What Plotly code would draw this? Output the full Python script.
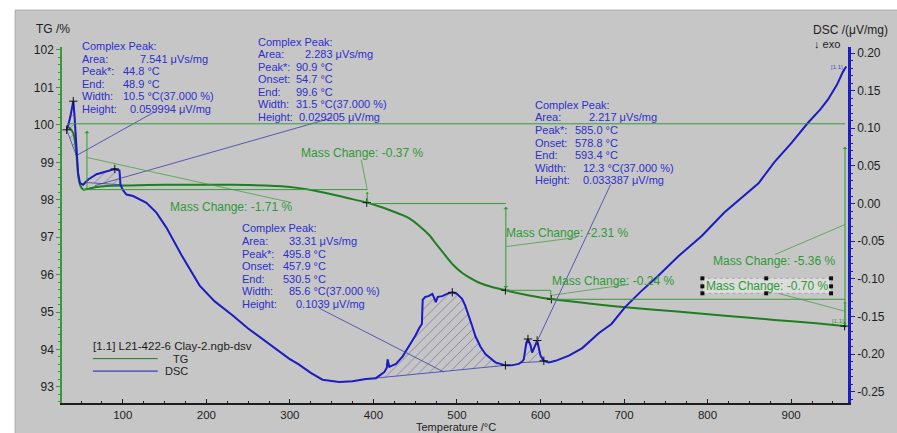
import numpy as np
import plotly.graph_objects as go

# ---------------- data ----------------
tg_T = [32.8, 36, 40.7, 43, 44.7, 46.7, 49.5, 52.6, 58.6, 68.6, 80, 108, 150, 200, 232, 270,
        290, 311, 330, 351, 370, 391, 410, 427, 435, 443, 455, 467, 475, 486.5, 495, 506,
        515, 526, 540, 558, 585, 614, 666, 705, 760, 821, 880, 930, 966]
tg_val = [99.95, 99.92, 99.78, 99.5, 99.16, 98.63, 98.36, 98.27, 98.29, 98.34, 98.37, 98.38,
          98.40, 98.40, 98.40, 98.38, 98.36, 98.31, 98.24, 98.14, 98.04, 97.93, 97.80, 97.66,
          97.59, 97.50, 97.30, 97.05, 96.82, 96.50, 96.27, 96.05, 95.92, 95.79, 95.68, 95.58,
          95.45, 95.34, 95.21, 95.12, 95.02, 94.90, 94.79, 94.70, 94.62]

dsc_T = [32.8, 35, 38, 40.7, 42, 44.7, 46.5, 48.7, 52.6, 55, 58.6, 68.6, 80.5, 90.4, 96,
         97.2, 100, 104.4, 112.3, 120, 128.3, 140.2, 152.2, 170, 192, 210, 232, 250, 272,
         290, 299, 311, 325, 339, 359, 375, 391, 403, 413, 416, 417, 419, 427, 435, 443,
         450, 455, 458, 459, 462, 466, 470.5, 473, 474.6, 477, 482.5, 488, 494.4, 500,
         506.3, 510, 514.3, 518, 522, 528, 534, 540, 546, 558, 565, 574, 578, 580, 583,
         585, 588, 590, 593, 596, 598, 600, 604, 610, 618, 625, 634, 650, 670, 685, 701,
         720, 741, 765, 793, 820, 861, 880, 900, 920, 935, 944, 955, 962, 966]
dsc_val = [0.098, 0.105, 0.120, 0.136, 0.120, 0.063, 0.040, 0.027, 0.025, 0.028, 0.032,
           0.039, 0.043, 0.046, 0.044, 0.025, 0.018, 0.012, 0.010, 0.006, 0.001, -0.012,
           -0.032, -0.068, -0.109, -0.130, -0.149, -0.166, -0.184, -0.198, -0.206, -0.214,
           -0.225, -0.234, -0.237, -0.236, -0.233, -0.232, -0.224, -0.218, -0.207, -0.217,
           -0.213, -0.203, -0.189, -0.176, -0.165, -0.160, -0.128, -0.124, -0.123, -0.120,
           -0.126, -0.131, -0.124, -0.123, -0.120, -0.118, -0.120, -0.127, -0.136, -0.149,
           -0.162, -0.176, -0.190, -0.200, -0.206, -0.211, -0.215, -0.215, -0.213, -0.210,
           -0.207, -0.185, -0.180, -0.188, -0.198, -0.190, -0.182, -0.192, -0.202, -0.209,
           -0.211, -0.209, -0.206, -0.202, -0.192, -0.172, -0.160, -0.138, -0.117, -0.096,
           -0.070, -0.043, -0.012, 0.027, 0.055, 0.080, 0.107, 0.125, 0.138, 0.158, 0.175,
           0.182]

x_ticks = [100, 200, 300, 400, 500, 600, 700, 800, 900]
tg_ticks = [93, 94, 95, 96, 97, 98, 99, 100, 101, 102]
dsc_ticks = [-0.25, -0.20, -0.15, -0.10, -0.05, 0.00, 0.05, 0.10, 0.15, 0.20]
dsc_tick_text = ["-0.25", "-0.20", "-0.15", "-0.10", "-0.05", "0.00", "0.05", "0.10", "0.15", "0.20"]

# hatched peak integration ranges (°C)
peak_ranges = [(32.8, 44.7), (55.0, 97.2), (399.0, 558.0), (576.0, 606.0)]

# peak result texts
peak_labels = [
    ["Complex Peak:", "Area:", "Peak*:", "End:", "Width:", "Height:"],
    ["Complex Peak:", "Area:", "Peak*:", "Onset:", "End:", "Width:", "Height:"],
    ["Complex Peak:", "Area:", "Peak*:", "Onset:", "End:", "Width:", "Height:"],
    ["Complex Peak:", "Area:", "Peak*:", "Onset:", "End:", "Width:", "Height:"],
]
peak_values = [
    ["", "7.541 μVs/mg", "44.8 °C", "48.9 °C", "10.5 °C(37.000 %)", "0.059994 μV/mg"],
    ["", "2.283 μVs/mg", "90.9 °C", "54.7 °C", "99.6 °C", "31.5 °C(37.000 %)", "0.029205 μV/mg"],
    ["", "2.217 μVs/mg", "585.0 °C", "578.8 °C", "593.4 °C", "12.3 °C(37.000 %)", "0.033387 μV/mg"],
    ["", "33.31 μVs/mg", "495.8 °C", "457.9 °C", "530.5 °C", "85.6 °C(37.000 %)", "0.1039 μV/mg"],
]
mass_changes = ["Mass Change: -1.71 %", "Mass Change: -0.37 %", "Mass Change: -2.31 %",
                "Mass Change: -0.24 %", "Mass Change: -5.36 %", "Mass Change: -0.70 %"]

tg_marker_T = [392, 558, 613, 964]
dsc_marker_T = [32.8, 40.7, 90.4, 494.4, 558, 585, 596, 604]

# ---------------- layout helpers ----------------
W, H = 897, 433
L, R, T_, B = 62, 850, 47, 404
def PX(px): return (px - L) / (R - L)
def PY(py): return (B - py) / (B - T_)

FONT = "Liberation Sans, Arial, sans-serif"
BLUE_TXT = "#2f2fcc"
GREEN_TXT = "#2f9a35"
TG_COL = "#1f7d22"
DSC_COL = "#1c1cc0"
GREY = "#c6c6c6"
DARK = "#1e1e1e"

fig = go.Figure()

# hatched peak areas
tT = np.array(dsc_T); tD = np.array(dsc_val)
for (a, b) in peak_ranges:
    m = (tT > a) & (tT < b)
    xs = [a] + list(tT[m]) + [b]
    ys = [float(np.interp(a, tT, tD))] + list(tD[m]) + [float(np.interp(b, tT, tD))]
    fig.add_trace(go.Scatter(x=xs + [a], y=ys + [ys[0]], yaxis="y2", mode="lines",
                             fill="toself", fillcolor="rgba(0,0,0,0)",
                             fillpattern=dict(shape="/", fgcolor="#34348c", bgcolor="rgba(0,0,0,0)",
                                              size=7, solidity=0.12),
                             line=dict(color="#3a3ab0", width=0.8), hoverinfo="skip",
                             showlegend=False))

fig.add_trace(go.Scatter(x=tg_T, y=tg_val, mode="lines", name="TG",
                         line=dict(color=TG_COL, width=2, shape="spline", smoothing=0.6),
                         showlegend=False))
fig.add_trace(go.Scatter(x=dsc_T, y=dsc_val, yaxis="y2", mode="lines", name="DSC",
                         line=dict(color=DSC_COL, width=2), showlegend=False))

# small "+" markers on curves
fig.add_trace(go.Scatter(x=tg_marker_T, y=np.interp(tg_marker_T, tg_T, tg_val), mode="markers",
                         marker=dict(symbol="cross-thin", size=6, line=dict(color="#111", width=1)),
                         showlegend=False, hoverinfo="skip"))
fig.add_trace(go.Scatter(x=dsc_marker_T, y=np.interp(dsc_marker_T, dsc_T, dsc_val), yaxis="y2",
                         mode="markers",
                         marker=dict(symbol="cross-thin", size=6, line=dict(color="#111", width=1)),
                         showlegend=False, hoverinfo="skip"))

ann = []
shapes = []

def text(px, py, s, color=DARK, size=12, anchor="left"):
    ann.append(dict(x=PX(px), y=PY(py), xref="paper", yref="paper", text=s, showarrow=False,
                    xanchor=anchor, yanchor="middle", borderpad=0, borderwidth=0,
                    font=dict(family=FONT, size=size, color=color)))

def line(x0, y0, x1, y1, color, width=0.8):
    shapes.append(dict(type="line", xref="paper", yref="paper", x0=PX(x0), y0=PY(y0),
                       x1=PX(x1), y1=PY(y1), line=dict(color=color, width=width)))

def arrow(hx, hy, tx, ty, color=GREEN_TXT, both=False, size=0.8):
    ann.append(dict(x=PX(hx), y=PY(hy), xref="paper", yref="paper", text="", showarrow=True,
                    ax=tx - hx, ay=ty - hy, arrowhead=1, startarrowhead=1,
                    arrowside="end+start" if both else "end", arrowsize=size,
                    startarrowsize=size, arrowwidth=1, arrowcolor=color))

# peak text blocks: (label x, value x per line, first line y, line step)
BLOCK_SIZE = 11
block_pos = [
    (82, [0, 140, 123, 123, 123, 130], 46, 12.6),
    (258, [0, 306, 297, 297, 297, 297, 300], 41.5, 12.6),
    (536, [0, 590, 576, 576, 576, 584, 584], 105, 12.6),
    (242, [0, 290, 284, 284, 284, 290, 297], 229, 12.6),
]
for labels, values, (lx, vxs, y0, dy) in zip(peak_labels, peak_values, block_pos):
    for i, (lab, val) in enumerate(zip(labels, values)):
        yy = y0 + i * dy
        text(lx, yy, lab, BLUE_TXT, size=BLOCK_SIZE)
        if val:
            text(vxs[i], yy, val, BLUE_TXT, size=BLOCK_SIZE)

# peak leader lines
for (x0, y0, x1, y1) in [(155, 112, 78, 155), (333, 118, 95, 186), (320, 309, 445, 373), (612, 185, 537, 345)]:
    line(x0, y0, x1, y1, "#3c3ca8", 0.8)

# mass change texts
mc_pos = [(170, 207), (302, 153), (507, 234), (553, 282), (715, 262), (708, 287)]

# selection box around the -0.70 label
shapes.append(dict(type="rect", xref="paper", yref="paper", x0=PX(704), x1=PX(833), y0=PY(294), y1=PY(279),
                   fillcolor="#dcdcdc", line=dict(color="#8a8a8a", width=0.6, dash="dot")))
for hx in (704, 768, 833):
    for hy in (279, 294):
        shapes.append(dict(type="rect", xref="paper", yref="paper", x0=PX(hx - 2), x1=PX(hx + 2),
                           y0=PY(hy + 2), y1=PY(hy - 2), fillcolor="#111", line=dict(width=0)))
for hx in (704, 833):
    shapes.append(dict(type="rect", xref="paper", yref="paper", x0=PX(hx - 2), x1=PX(hx + 2),
                       y0=PY(289), y1=PY(285), fillcolor="#111", line=dict(width=0)))

for s, (px, py) in zip(mass_changes, mc_pos):
    text(px, py, s, GREEN_TXT)

# green guide lines
G = "#3a9a3a"
line(67, 124, 847, 124, G, 1)
line(83, 190, 368, 190, G, 1)
line(368, 204, 507, 204, G, 1)
line(507, 291, 552, 291, G, 1)
line(552, 291, 552, 300, G, 1)
line(552, 300, 847, 300, G, 1)
for (x0, y0, x1, y1) in [(88, 158, 292, 203), (362, 160, 368, 190), (508, 247, 578, 238),
                         (553, 296, 630, 285), (780, 294, 847, 312), (777, 255, 847, 225)]:
    line(x0, y0, x1, y1, G, 0.7)
arrow(87, 131, 87, 190)
arrow(368, 203, 368, 191, both=True, size=0.6)
arrow(507, 289, 507, 206, both=True)
arrow(847, 326, 847, 301, both=True, size=0.6)
arrow(847, 147, 847, 327)

# legend block
text(93, 347, "[1.1] L21-422-6 Clay-2.ngb-dsv", DARK, size=11.5)
line(93, 359.5, 158, 359.5, TG_COL, 1)
line(93, 372, 158, 372, DSC_COL, 1)
text(188, 359.5, "TG", DARK, size=11, anchor="right")
text(188, 372, "DSC", DARK, size=11, anchor="right")

# axis titles
text(36, 29, "TG /%", DARK)
text(815, 30, "DSC /(μV/mg)", DARK)
text(816, 44, "↓ exo", DARK, size=11)
text(457, 428, "Temperature /°C", DARK, size=11, anchor="center")
text(839, 67, "[1.1]", "#4a4ad0", size=6, anchor="center")
text(840, 322, "[1.1]", GREEN_TXT, size=6, anchor="center")

# background: white strips at top/left, grey elsewhere
shapes.insert(0, dict(type="rect", xref="paper", yref="paper", x0=PX(15), x1=PX(905), y0=PY(440), y1=PY(10),
                      fillcolor=GREY, line=dict(color="#a8a8a8", width=1), layer="below"))

tick_font = dict(family=FONT, size=12, color=DARK)
fig.update_layout(
    width=W, height=H,
    margin=dict(l=L, r=W - R, t=T_, b=H - B, pad=0),
    paper_bgcolor="white", plot_bgcolor=GREY,
    showlegend=False,
    font=dict(family=FONT, size=12, color=DARK),
    xaxis=dict(range=[27.2, 968.1], tickvals=x_ticks, ticktext=[str(v) for v in x_ticks],
               ticks="inside", ticklen=4, tickcolor=DARK, showline=True, linecolor=DARK, linewidth=1.5,
               showgrid=False, zeroline=False, tickfont=dict(family=FONT, size=11.5, color=DARK),
               minor=dict(dtick=25, ticks="inside", ticklen=2, tickcolor=DARK, showgrid=False)),
    yaxis=dict(range=[92.57, 102.08], tickvals=tg_ticks, ticktext=[str(v) for v in tg_ticks],
               ticks="outside", ticklen=4, tickcolor=G, showline=True, linecolor=G, linewidth=1.5,
               showgrid=False, zeroline=False, tickfont=tick_font,
               minor=dict(dtick=0.2, ticks="outside", ticklen=2, tickcolor=G, showgrid=False)),
    yaxis2=dict(range=[-0.265, 0.208], overlaying="y", side="right", tickvals=dsc_ticks,
                ticktext=dsc_tick_text, ticks="outside", ticklen=4, tickcolor=DSC_COL,
                showline=True, linecolor=DSC_COL, linewidth=2.5, showgrid=False, zeroline=False,
                tickfont=tick_font,
                minor=dict(dtick=0.01, ticks="outside", ticklen=2, tickcolor=DSC_COL, showgrid=False)),
    annotations=ann, shapes=shapes,
)

fig.write_html("out.html")
